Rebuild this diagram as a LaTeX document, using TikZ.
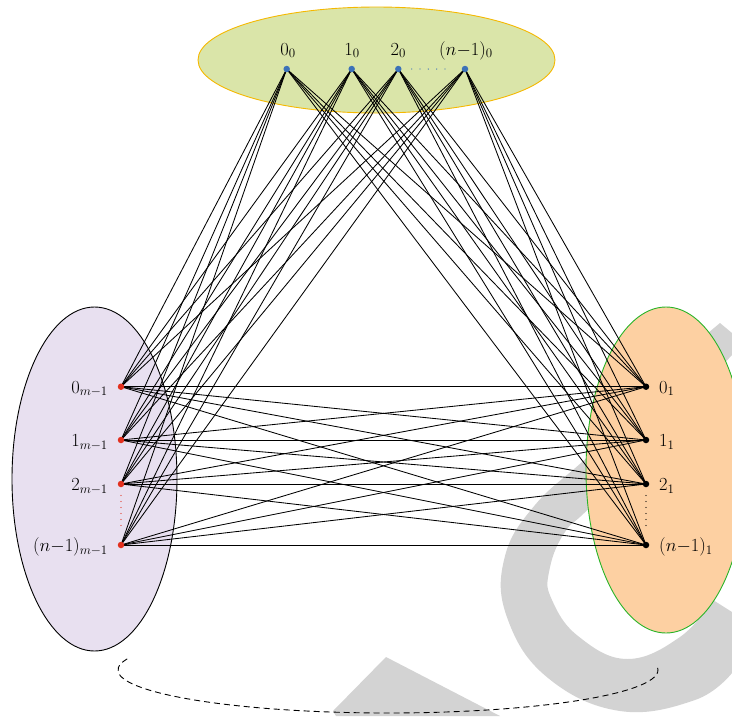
\RequirePackage{fix-cm}
\documentclass[tikz,border=0pt]{standalone}
\usetikzlibrary{backgrounds}
\definecolor{topfill}{RGB}{218,229,169}
\definecolor{topdraw}{RGB}{245,184,0}
\definecolor{leftfill}{RGB}{232,224,240}
\definecolor{rightfill}{RGB}{253,208,162}
\definecolor{rightdraw}{RGB}{40,180,40}
\definecolor{bluedot}{RGB}{60,114,184}
\definecolor{reddot}{RGB}{226,48,30}
\definecolor{wmgray}{RGB}{211,211,211}
\begin{document}
\begin{tikzpicture}[x=1pt,y=-1pt,
  vdot/.style={circle,fill=#1,inner sep=0pt,minimum size=6.5pt},
  lab/.style={inner sep=0pt,font=\fontsize{18.5}{22}\selectfont},
  edge/.style={line width=0.85pt,black},
  dotline/.style={line width=1.3pt,line cap=round,dash pattern=on 0pt off 6pt,#1},
]
\useasboundingbox (0,0) rectangle (732,716);

% vertices
\node[vdot=bluedot] (t0) at (286.7,69) {};
\node[vdot=bluedot] (t1) at (351.7,69) {};
\node[vdot=bluedot] (t2) at (398.3,69) {};
\node[vdot=bluedot] (t3) at (465,69) {};
\node[vdot=reddot] (l0) at (121,386.7) {};
\node[vdot=reddot] (l1) at (121,440) {};
\node[vdot=reddot] (l2) at (121,484) {};
\node[vdot=reddot] (l3) at (121,545) {};
\node[vdot=black] (r0) at (646,386.7) {};
\node[vdot=black] (r1) at (646,440) {};
\node[vdot=black] (r2) at (646,484) {};
\node[vdot=black] (r3) at (646,545) {};

% labels
\node[lab,anchor=base] (lt0) at (288,55) {$0_0$};
\node[lab,anchor=base] (lt1) at (352,55) {$1_0$};
\node[lab,anchor=base] (lt2) at (398.3,55) {$2_0$};
\node[lab,anchor=base] (lt3) at (466,55) {$(n{-}1)_0$};
\node[lab,anchor=base east] (ll0) at (108,393) {$0_{m-1}$};
\node[lab,anchor=base east] (ll1) at (108,446.5) {$1_{m-1}$};
\node[lab,anchor=base east] (ll2) at (108,490.5) {$2_{m-1}$};
\node[lab,anchor=base east] (ll3) at (108,551.5) {$(n{-}1)_{m-1}$};
\node[lab,anchor=base west] (lr0) at (659,393) {$0_1$};
\node[lab,anchor=base west] (lr1) at (659,446.5) {$1_1$};
\node[lab,anchor=base west] (lr2) at (659,490.5) {$2_1$};
\node[lab,anchor=base west] (lr3) at (659,551.5) {$(n{-}1)_1$};

\begin{pgfonlayer}{background}
  % watermark
  \fill[wmgray] (720,323) -- (708,333)
    -- plot[smooth,tension=0.7] coordinates {(708,333) (600,445) (535,505) (504,560) (508,620) (548,678) (620,711) (695,700) (732,673)}
    -- (732,612) -- (713,600)
    -- plot[smooth,tension=0.7] coordinates {(713,600) (680,637) (627,659) (578,636) (552,600) (549,572) (565,532) (600,497) (732,355)}
    -- (732,333) -- cycle;
  \fill[wmgray] (386,657) -- (333,711) -- (336,716) -- (500,716) -- cycle;
  % groups
  \draw[topdraw,line width=0.9pt,fill=topfill] (376.5,60) ellipse [x radius=178.5, y radius=53];
  \draw[black,line width=0.9pt,fill=leftfill] (94.5,479) ellipse [x radius=82.5, y radius=172];
  \draw[rightdraw,line width=0.9pt,fill=rightfill] (666,470) ellipse [x radius=80, y radius=163];
  % complete connections
  \foreach \a in {t0,t1,t2,t3}{
    \foreach \b in {l0,l1,l2,l3,r0,r1,r2,r3}{
      \draw[edge] (\a.center) -- (\b.center);
    }
  }
  \foreach \a in {l0,l1,l2,l3}{
    \foreach \b in {r0,r1,r2,r3}{
      \draw[edge] (\a.center) -- (\b.center);
    }
  }
\end{pgfonlayer}

% ellipsis dots
\draw[dotline=bluedot,dash pattern=on 0pt off 8.3pt,shorten <=10pt,shorten >=14pt] (t2) -- (t3);
\draw[dotline=reddot,shorten <=8pt,shorten >=12pt] (l2) -- (l3);
\draw[dotline=black,shorten <=8pt,shorten >=12pt] (r2) -- (r3);

% dashed return arc
\draw[line width=0.9pt,dash pattern=on 6pt off 4pt] (388,670) ++(165:270 and -43) arc [start angle=165, end angle=367, x radius=270, y radius=-43];
\end{tikzpicture}
\end{document}
